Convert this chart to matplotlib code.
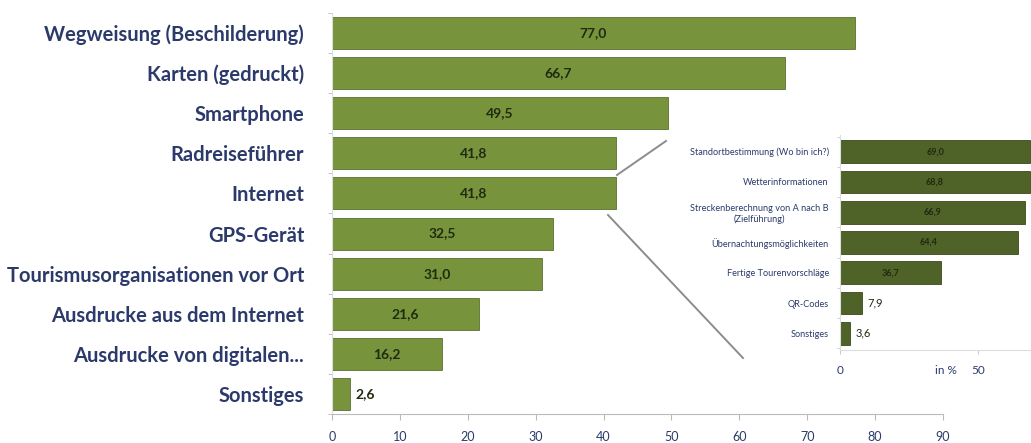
import matplotlib
matplotlib.use("Agg")
import matplotlib.pyplot as plt
from matplotlib.lines import Line2D

# ---- data ----
main_categories = ["Wegweisung (Beschilderung)", "Karten (gedruckt)", "Smartphone",
                   "Radreiseführer", "Internet", "GPS-Gerät",
                   "Tourismusorganisationen vor Ort", "Ausdrucke aus dem Internet",
                   "Ausdrucke von digitalen...", "Sonstiges"]
main_values = [77.0, 66.7, 49.5, 41.8, 41.8, 32.5, 31.0, 21.6, 16.2, 2.6]
main_ticks = [0, 10, 20, 30, 40, 50, 60, 70, 80, 90]

inset_categories = ["Standortbestimmung (Wo bin ich?)", "Wetterinformationen",
                    "Streckenberechnung von A nach B\n(Zielführung)",
                    "Übernachtungsmöglichkeiten", "Fertige Tourenvorschläge",
                    "QR-Codes", "Sonstiges"]
inset_values = [69.0, 68.8, 66.9, 64.4, 36.7, 7.9, 3.6]
inset_ticks = [0, 50]

W, H = 1031, 443
fig = plt.figure(figsize=(W / 100, H / 100), dpi=100)
fig.patch.set_facecolor("white")

def px_axes(x0, y0, x1, y1):
    return fig.add_axes([x0 / W, 1 - y1 / H, (x1 - x0) / W, (y1 - y0) / H])

navy = "#2B3A6B"
main_col = "#77933C"
inset_col = "#4F6228"
font = "Lato"

# ---- main chart ----
ax = px_axes(332, 13, 943, 414)
n = len(main_values)
ypos = list(range(n))[::-1]
ax.barh(ypos, main_values, height=0.8, color=main_col, edgecolor="#5a7030", linewidth=0.6)
ax.set_xlim(0, 90)
ax.set_ylim(-0.5, n - 0.5)
ax.set_xticks(main_ticks)
ax.set_xticklabels([str(t) for t in main_ticks], fontsize=9, color=navy, fontfamily=font)
ax.set_yticks(ypos)
ax.set_yticklabels(main_categories, fontsize=14.5, color=navy, fontfamily=font, fontweight="bold")
ax.tick_params(axis="y", length=0, pad=20)
ax.tick_params(axis="x", length=4, color="#bbbbbb", pad=8)
ax.set_yticks([i - 0.5 for i in range(n + 1)], minor=True)
ax.tick_params(axis="y", which="minor", length=3, color="#bbbbbb")
for s in ["top", "right"]:
    ax.spines[s].set_visible(False)
ax.spines["left"].set_color("#dddddd")
ax.spines["bottom"].set_color("#bbbbbb")
for y, v in zip(ypos, main_values):
    lab = f"{v:.1f}".replace(".", ",")
    if v > 10:
        ax.text(v / 2, y, lab, ha="center", va="center", fontsize=10,
                fontweight="bold", color="#1f2a10", fontfamily=font)
    else:
        ax.text(v + 0.8, y, lab, ha="left", va="center", fontsize=10,
                fontweight="bold", color="#1f2a10", fontfamily=font)

# ---- inset chart ----
ax2 = px_axes(840, 135, 840 + 80 * 2.76, 350)
m = len(inset_values)
ypos2 = list(range(m))[::-1]
ax2.barh(ypos2, inset_values, height=0.75, color=inset_col, edgecolor="#3c4a1e", linewidth=0.6)
ax2.set_xlim(0, 80)
ax2.set_ylim(-0.55, m - 0.45)
ax2.set_xticks(inset_ticks)
ax2.set_xticklabels([str(t) for t in inset_ticks], fontsize=8.5, color=navy, fontfamily=font)
ax2.set_yticks(ypos2)
ax2.set_yticklabels(inset_categories, fontsize=6.6, color=navy, fontfamily=font,
                    multialignment="center")
ax2.tick_params(axis="y", length=0, pad=8)
ax2.tick_params(axis="x", length=3, color="#cccccc", pad=8)
ax2.set_yticks([i - 0.5 for i in range(m + 1)], minor=True)
ax2.tick_params(axis="y", which="minor", length=2, color="#cccccc")
for s in ["top", "right"]:
    ax2.spines[s].set_visible(False)
ax2.spines["left"].set_color("#dddddd")
ax2.spines["bottom"].set_color("#dddddd")
for y, v in zip(ypos2, inset_values):
    lab = f"{v:.1f}".replace(".", ",")
    if v > 20:
        ax2.text(v / 2, y, lab, ha="center", va="center", fontsize=6.5,
                 fontweight="bold", color="#1f2a10", fontfamily=font)
    else:
        ax2.text(v + 2, y, lab, ha="left", va="center", fontsize=8,
                 color="#1f2a10", fontfamily=font)
fig.text(935 / W, 1 - 370 / H, "in %", fontsize=8.5, color=navy, fontfamily=font,
         ha="left", va="center")

# ---- connector lines ----
for (x0, y0, x1, y1) in [(617, 175, 666, 141), (608, 215, 743, 358)]:
    fig.add_artist(Line2D([x0 / W, x1 / W], [1 - y0 / H, 1 - y1 / H],
                          color="#8c8c8c", linewidth=1.4, transform=fig.transFigure))

fig.savefig("out.png", dpi=100, facecolor="white")
